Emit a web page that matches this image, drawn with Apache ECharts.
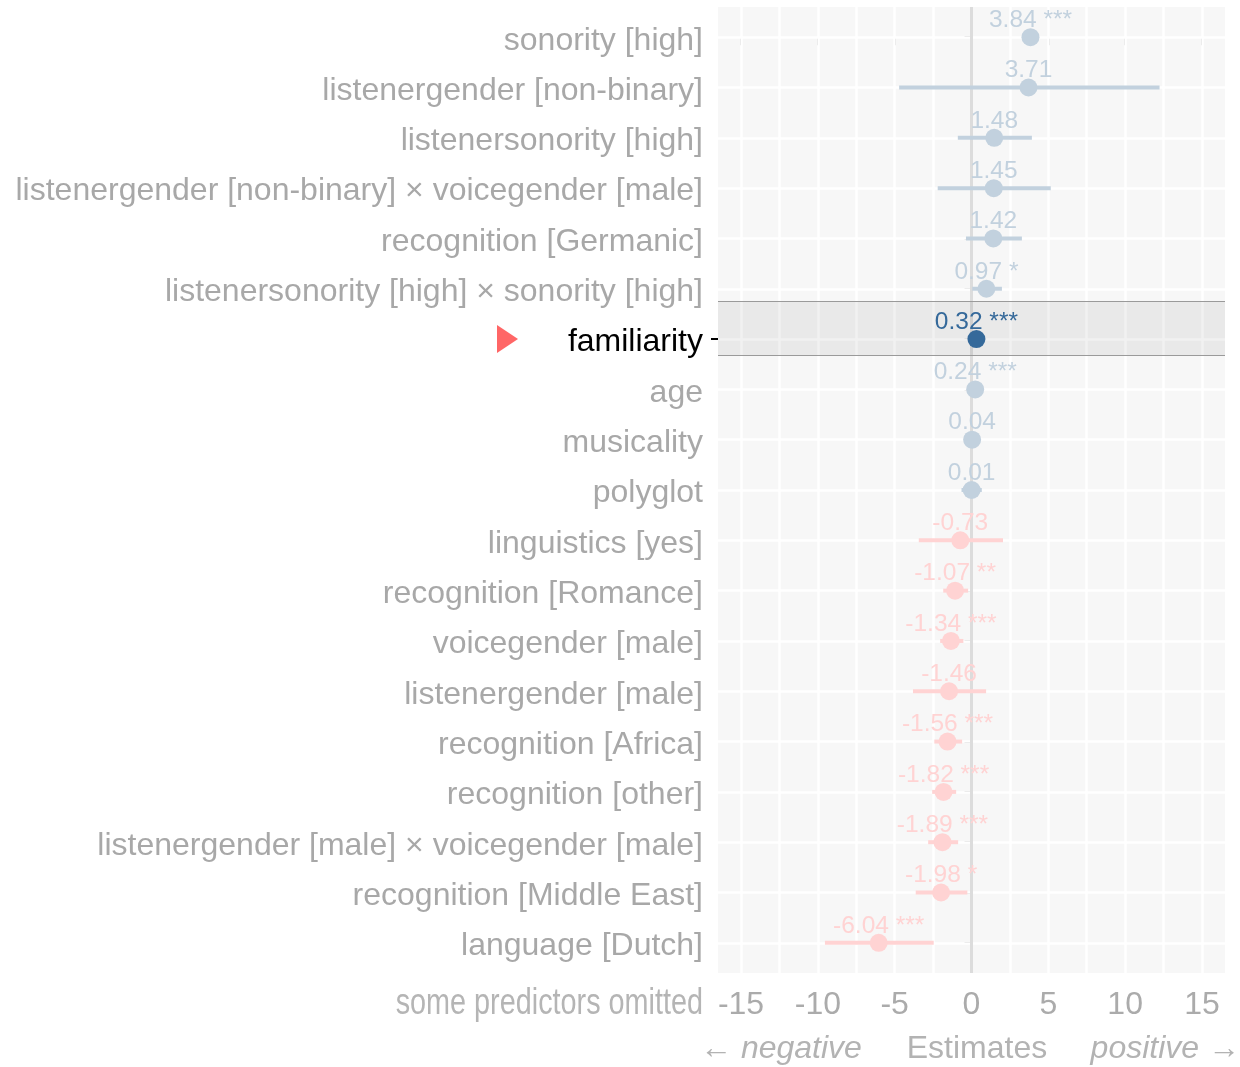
<!DOCTYPE html>
<html><head><meta charset="utf-8">
<script src="https://cdn.jsdelivr.net/npm/echarts@6/dist/echarts.min.js"></script>
<style>html,body{margin:0;padding:0;background:#fff}#c{width:1240px;height:1067px}</style>
</head><body><div id="c"></div><script>
// ---- data ----
const terms = [
  'sonority [high]',
  'listenergender [non-binary]',
  'listenersonority [high]',
  'listenergender [non-binary] × voicegender [male]',
  'recognition [Germanic]',
  'listenersonority [high] × sonority [high]',
  'familiarity',
  'age',
  'musicality',
  'polyglot',
  'linguistics [yes]',
  'recognition [Romance]',
  'voicegender [male]',
  'listenergender [male]',
  'recognition [Africa]',
  'recognition [other]',
  'listenergender [male] × voicegender [male]',
  'recognition [Middle East]',
  'language [Dutch]'
];
const estimates = [3.84, 3.71, 1.48, 1.45, 1.42, 0.97, 0.32, 0.24, 0.04, 0.01, -0.73, -1.07, -1.34, -1.46, -1.56, -1.82, -1.89, -1.98, -6.04];
const ciLow  = [3.35, -4.71, -0.89, -2.20, -0.36, 0.05, 0.20, 0.12, -0.48, -0.65, -3.43, -1.84, -2.04, -3.81, -2.42, -2.56, -2.82, -3.63, -9.54];
const ciHigh = [4.33, 12.24, 3.93, 5.16, 3.28, 1.98, 0.44, 0.36, 0.56, 0.67, 2.05, -0.22, -0.53, 0.95, -0.61, -1.00, -0.87, -0.27, -2.46];
const stars  = ['***', '', '', '', '', '*', '***', '***', '', '', '', '**', '***', '', '***', '***', '***', '*', '***'];
const highlightTerm = 'familiarity';
const xTicks = [-15, -10, -5, 0, 5, 10, 15];
const xGrid = [-15, -12.5, -10, -7.5, -5, -2.5, 0, 2.5, 5, 7.5, 10, 12.5, 15];
const highlightBand = [5.25, 6.32];

// ---- chart ----
const FONT = "'Liberation Sans', Arial, Helvetica, sans-serif";
const HL = terms.indexOf(highlightTerm);
const idx = terms.map((_, i) => i);
const colPos = '#c2d1de', colNeg = '#ffd3d3', colHL = '#35699a';
function colorOf(i) { return i === HL ? colHL : (estimates[i] >= 0 ? colPos : colNeg); }
function labelText(i) { return estimates[i].toFixed(2) + (stars[i] ? ' ' + stars[i] : ''); }

const chart = echarts.init(document.getElementById('c'), null, { renderer: 'canvas' });
const yBase = {
  type: 'value', inverse: true, min: -0.6, max: terms.length - 1 + 0.6,
  axisLine: { show: false }, splitLine: { show: false }
};
const option = {
  animation: false,
  grid: { left: 718, right: 15, top: 7, bottom: 94, show: true, backgroundColor: '#f7f7f7', borderWidth: 0 },
  xAxis: {
    type: 'value', min: -16.5, max: 16.5,
    axisLine: { show: false }, splitLine: { show: false },
    axisTick: { show: true, customValues: xTicks, length: 8, lineStyle: { color: '#b3b3b3', width: 2 } },
    axisLabel: { customValues: xTicks, margin: 16, fontSize: 32, color: '#ababab', fontFamily: FONT }
  },
  yAxis: [
    Object.assign({}, yBase, {
      axisTick: { show: true, customValues: idx, length: 7, lineStyle: { color: '#b3b3b3', width: 2 } },
      axisLabel: {
        customValues: idx, margin: 15, fontSize: 32, color: '#a8a8a8', fontFamily: FONT,
        padding: [7, 0, 0, 0],
        formatter: v => { const i = Math.round(v); return i === HL ? '{hl|' + terms[i] + '}' : terms[i]; },
        rich: { hl: { color: '#000000', fontSize: 32, fontFamily: FONT } }
      }
    }),
    Object.assign({}, yBase, {
      position: 'left', axisLabel: { show: false },
      axisTick: { show: true, customValues: [HL], length: 7, lineStyle: { color: '#000000', width: 2 } }
    })
  ],
  series: [
    { // grid lines
      type: 'scatter', data: [], z: 1, silent: true,
      markLine: {
        z: 1, silent: true, symbol: 'none', animation: false, label: { show: false },
        lineStyle: { color: '#ffffff', width: 2.5, type: 'solid' },
        emphasis: { disabled: true },
        data: xGrid.filter(x => x !== 0).map(x => ({ xAxis: x })).concat(idx.map(i => ({ yAxis: i })))
      }
    },
    { // zero line
      type: 'scatter', data: [], z: 2, silent: true,
      markLine: {
        z: 2, silent: true, symbol: 'none', animation: false, label: { show: false },
        lineStyle: { color: '#dcdcdc', width: 3, type: 'solid' },
        emphasis: { disabled: true },
        data: [{ xAxis: 0 }]
      }
    },
    { // highlight band
      type: 'scatter', data: [], z: 3, silent: true,
      markArea: {
        z: 3, silent: true, animation: false, label: { show: false },
        itemStyle: { color: 'rgba(0,0,0,0.055)', borderWidth: 0 },
        emphasis: { disabled: true },
        data: [[{ yAxis: highlightBand[0] }, { yAxis: highlightBand[1] }]]
      },
      markLine: {
        z: 3, silent: true, symbol: 'none', animation: false, label: { show: false },
        lineStyle: { color: '#9a9a9a', width: 1, type: 'solid' },
        emphasis: { disabled: true },
        data: [{ yAxis: highlightBand[0] }, { yAxis: highlightBand[1] }]
      }
    },
    { // error bars
      type: 'custom', z: 10, silent: true,
      data: idx.map(i => [ciLow[i], ciHigh[i], i]),
      encode: { x: [0, 1], y: 2 },
      renderItem: (params, api) => {
        const i = params.dataIndex;
        const a = api.coord([api.value(0), api.value(2)]);
        const b = api.coord([api.value(1), api.value(2)]);
        return { type: 'line', shape: { x1: a[0], y1: a[1], x2: b[0], y2: b[1] },
          style: { stroke: colorOf(i), lineWidth: 4 } };
      }
    },
    { // points + labels
      type: 'scatter', z: 11, silent: true, symbolSize: 18,
      data: idx.map(i => ({
        value: [estimates[i], i],
        itemStyle: { color: colorOf(i), opacity: 1 },
        label: { color: colorOf(i) }
      })),
      label: {
        show: true, position: 'inside', offset: [0, -17], fontSize: 24.5, fontFamily: FONT,
        formatter: p => labelText(p.dataIndex)
      }
    }
  ]
};
chart.setOption(option);

const yHL = chart.convertToPixel({ yAxisIndex: 0 }, HL);
chart.setOption({
  graphic: [
    { type: 'polygon', x: 497, y: yHL, shape: { points: [[0, -14], [21, 0], [0, 14]] }, style: { fill: '#ff6666' } },
    { type: 'text', x: 703, y: 1004, scaleX: 0.8, style: { text: 'some predictors omitted', align: 'right', verticalAlign: 'middle',
      fontSize: 36, fontFamily: FONT, fill: '#b5b5b5' } },
    { type: 'text', x: 700, y: 1049, style: { text: '← negative', align: 'left', verticalAlign: 'middle',
      fontSize: 32, fontStyle: 'italic', fontFamily: FONT, fill: '#b3b3b3' } },
    { type: 'text', x: 977, y: 1049, style: { text: 'Estimates', align: 'center', verticalAlign: 'middle',
      fontSize: 32, fontFamily: FONT, fill: '#b3b3b3' } },
    { type: 'text', x: 1240, y: 1049, style: { text: 'positive →', align: 'right', verticalAlign: 'middle',
      fontSize: 32, fontStyle: 'italic', fontFamily: FONT, fill: '#b3b3b3' } }
  ]
});
</script></body></html>
